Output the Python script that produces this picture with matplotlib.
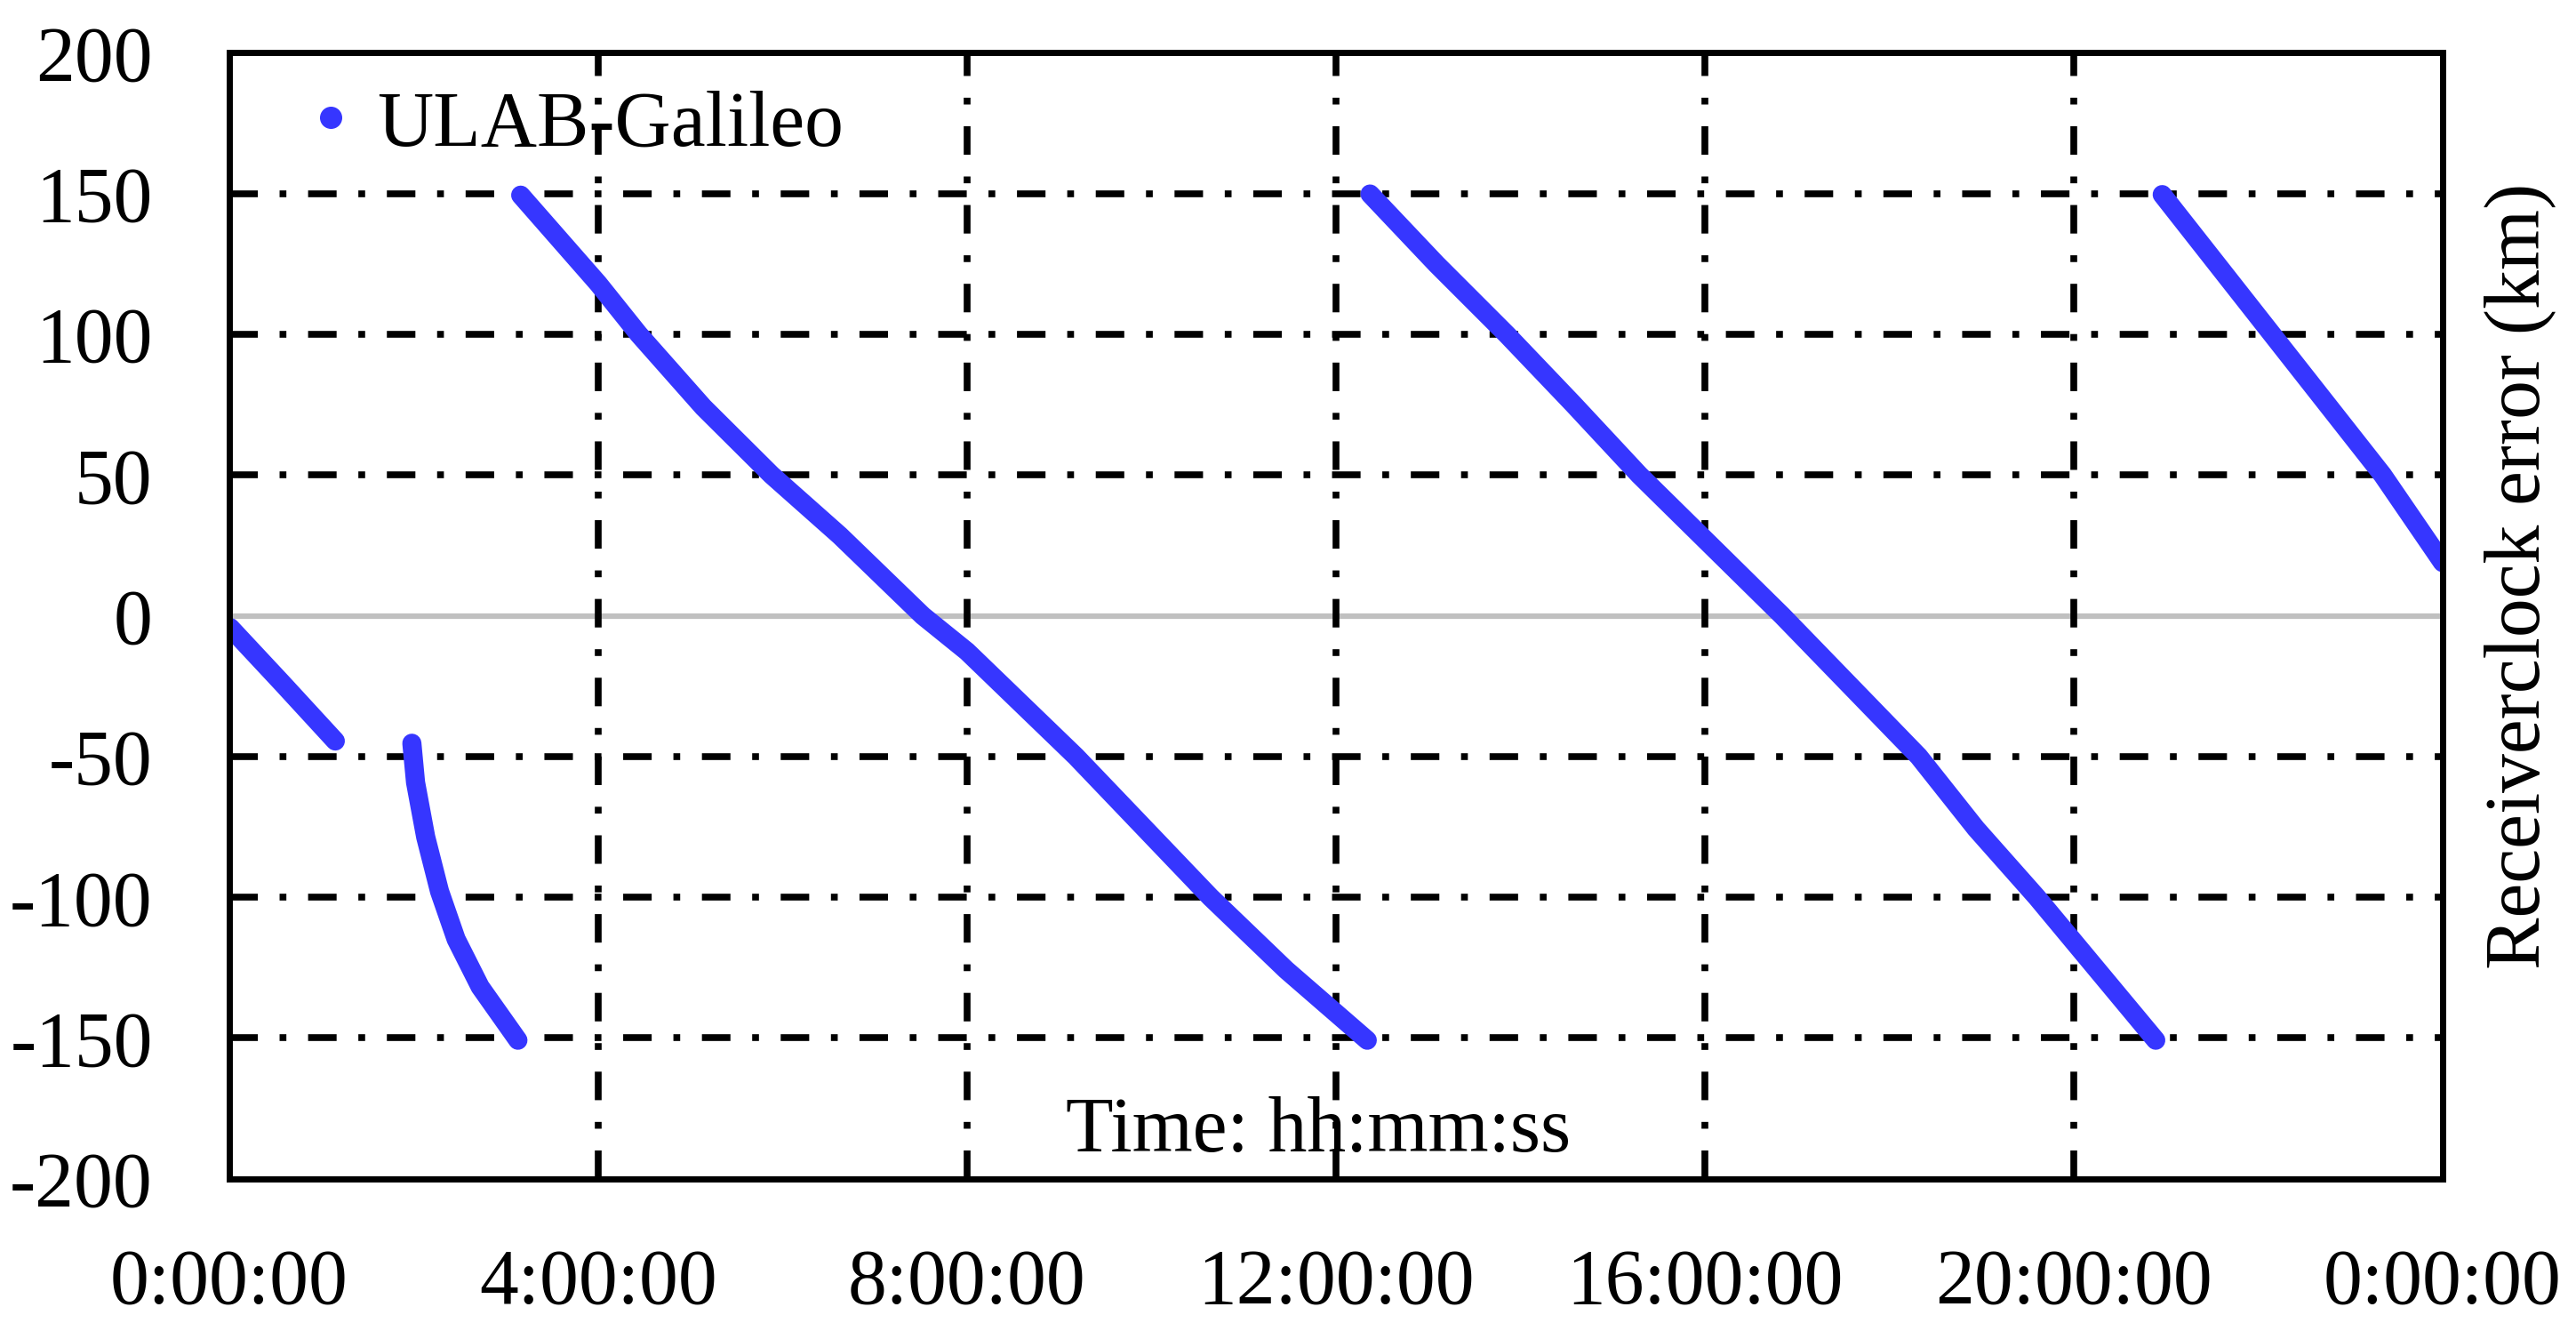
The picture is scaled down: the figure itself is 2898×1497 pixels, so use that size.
import numpy as np
import matplotlib
matplotlib.use("Agg")
import matplotlib.pyplot as plt
from matplotlib.lines import Line2D

# time in hours, receiver clock error in km
seg1_t = [0.01, 0.58, 1.15]
seg1_v = [-4.2, -24.2, -44.5]

seg2_t = [1.98, 2.02, 2.13, 2.28, 2.46, 2.72, 3.13]
seg2_v = [-45.3, -59.2, -78.6, -97.9, -114.9, -131.8, -150.8]

seg3_t = [3.16, 4.0, 4.44, 5.14, 5.88, 6.62, 7.52, 8.0, 9.18, 10.64, 11.46, 12.34]
seg3_v = [149.4, 118.0, 100.0, 74.1, 50.0, 28.5, 0.0, -12.7, -50.0, -100.0, -125.8, -150.8]

seg4_t = [12.37, 13.09, 13.85, 14.57, 15.29, 16.84, 18.32, 18.94, 19.60, 20.89]
seg4_v = [149.8, 124.9, 100.0, 75.3, 50.0, 0.0, -50.0, -75.6, -100.0, -150.8]

seg5_t = [20.96, 22.15, 23.35, 24.0]
seg5_v = [149.6, 100.0, 50.0, 18.9]

segments = [(seg1_t, seg1_v), (seg2_t, seg2_v), (seg3_t, seg3_v),
            (seg4_t, seg4_v), (seg5_t, seg5_v)]

xticks = [0, 4, 8, 12, 16, 20, 24]
xticklabels = ["0:00:00", "4:00:00", "8:00:00", "12:00:00", "16:00:00", "20:00:00", "0:00:00"]
yticks = [-200, -150, -100, -50, 0, 50, 100, 150, 200]

BLUE = "#3636ff"
plt.rcParams["font.family"] = ["Liberation Serif", "DejaVu Serif"]
plt.rcParams["axes.unicode_minus"] = False
FS = 63

fig = plt.figure(figsize=(28.98, 14.97), dpi=100)
ax = fig.add_axes([0.0890, 0.1144, 0.8592, 0.8460])

# dash-dot grid, pattern in units of line width
dashdot = (0, (4.2, 3.2, 1.0, 3.2))
for y in yticks[1:-1]:
    if y == 0:
        ax.axhline(0, color="#c0c0c0", lw=4.5, zorder=1)
    else:
        ax.axhline(y, color="black", lw=5.5, linestyle=dashdot, zorder=1)
for x in xticks[1:-1]:
    ax.axvline(x, color="black", lw=5.5, linestyle=dashdot, zorder=1)

for t, v in segments:
    ax.plot(t, v, color=BLUE, lw=15.5, solid_capstyle="round",
            solid_joinstyle="round", zorder=3)

ax.set_xlim(0, 24)
ax.set_ylim(-200, 200)
ax.set_xticks(xticks)
ax.set_xticklabels(xticklabels)
ax.set_yticks(yticks)
ax.tick_params(axis="x", length=0, pad=56, labelsize=FS)
ax.tick_params(axis="y", length=0, pad=62, labelsize=FS)
for s in ax.spines.values():
    s.set_linewidth(5)
    s.set_color("black")
    s.set_zorder(4)

handle = Line2D([], [], marker="o", ls="none", color=BLUE, markersize=17)
ax.legend([handle], ["ULAB-Galileo"], loc="upper left", bbox_to_anchor=(0.0317, 0.967),
          frameon=False, fontsize=FS, handlelength=0.8, handletextpad=0.2,
          borderpad=0, borderaxespad=0)

ax.text(0.492, 0.024, "Time: hh:mm:ss", transform=ax.transAxes, ha="center",
        va="baseline", fontsize=FS, zorder=5)
fig.text(2835 / 2898, 1 - 648 / 1497, "Receiverclock error (km)", rotation=90,
         ha="center", va="center", fontsize=FS)

fig.savefig("out.png", dpi=100, facecolor="white")
